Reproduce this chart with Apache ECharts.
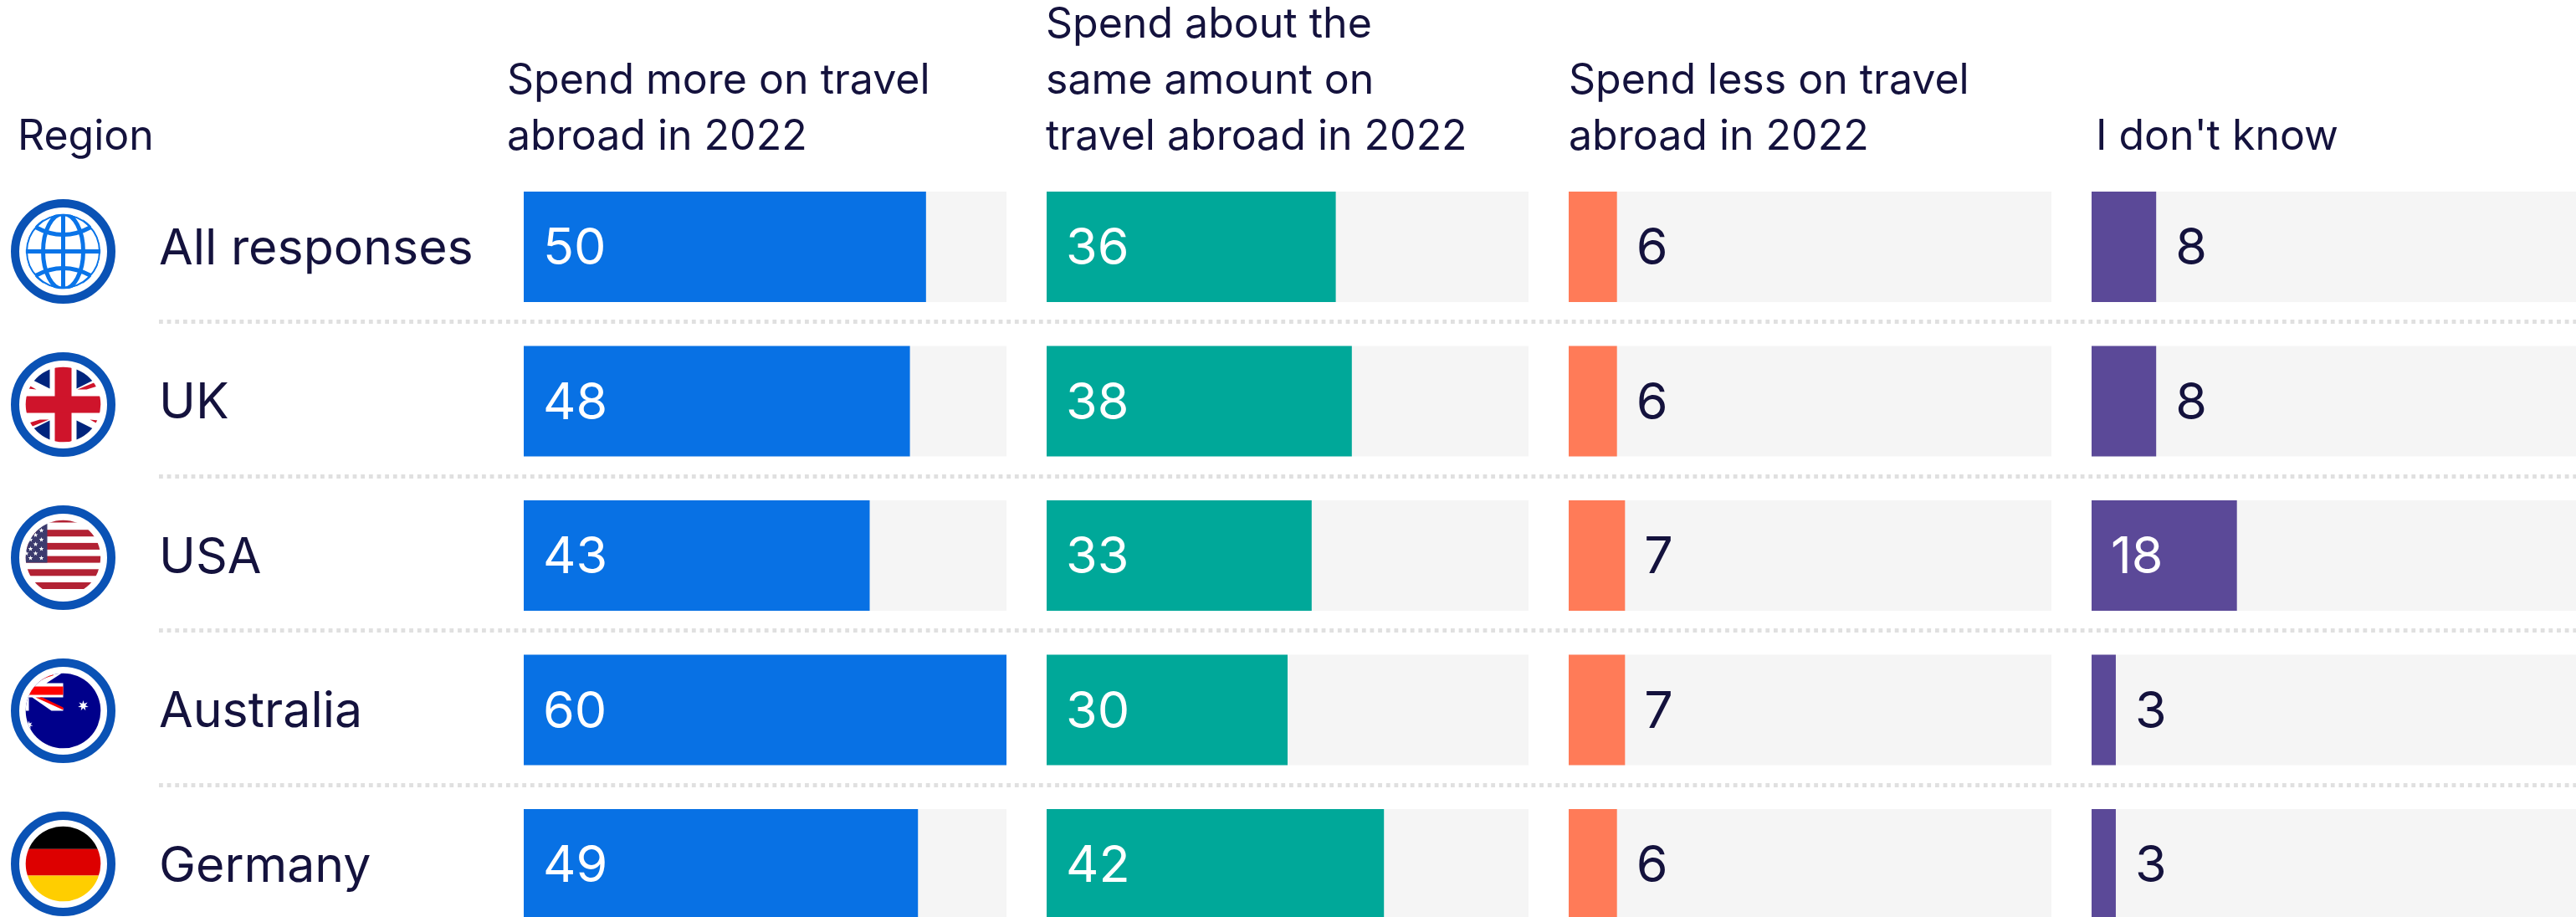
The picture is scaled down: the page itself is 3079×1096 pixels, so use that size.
<!DOCTYPE html>
<html><head><meta charset="utf-8">
<style>html,body{margin:0;padding:0;background:#fff;overflow:hidden}#c{width:3079px;height:1096px}</style>
<script src="https://cdn.jsdelivr.net/npm/echarts@6/dist/echarts.min.js"></script>
</head><body><div id="c"></div>
<script>
const regions = ['All responses','UK','USA','Australia','Germany'];
const spendMore = [50,48,43,60,49];
const spendSame = [36,38,33,30,42];
const spendLess = [6,6,7,7,6];
const dontKnow  = [8,8,18,3,3];
const headers = ['Region','Spend more on travel\nabroad in 2022','Spend about the\nsame amount on\ntravel abroad in 2022','Spend less on travel\nabroad in 2022',"I don't know"];
const barColors = ['#0871E4','#00A899','#FF7B58','#5B4998'];

const INK='#14123D', FONT='Inter';
const star=(cx,cy,r,n=5,inner=0.42)=>{let p=[];for(let i=0;i<n*2;i++){const a=-Math.PI/2+i*Math.PI/n,q=i%2?r*inner:r;p.push((cx+q*Math.cos(a)).toFixed(2)+','+(cy+q*Math.sin(a)).toFixed(2));}return `<polygon fill="#fff" points="${p.join(' ')}"/>`;};
const flagArt={
 'All responses':`<g fill="none" stroke="#0A74E8" stroke-width="5"><circle r="43.5" stroke-width="2"/><path d="M0-45V45M-45 0H45" stroke-width="5"/><ellipse rx="24" ry="45"/><path d="M-33-29Q0-11 33-29M-33 29Q0 11 33 29"/><path d="M-24-40L-33-29M24-40L33-29M-24 40L-33 29M24 40L33 29" stroke-width="3"/></g>`,
 'UK':`<polygon fill="#00247D" points="-16,-19 -16,-50 -50,-50 -50,-36"/><polygon fill="#00247D" points="16,-19 16,-50 50,-50 50,-36"/><polygon fill="#00247D" points="-16,19 -16,50 -50,50 -50,36"/><polygon fill="#00247D" points="16,19 16,50 50,50 50,36"/><g fill="#CF142B"><rect x="-10" y="-46" width="20" height="92"/><rect x="-46" y="-10" width="92" height="20"/><polygon points="17,-18 39,-27 41,-22 28,-18"/><polygon points="-17,18 -39,27 -41,22 -28,18"/><polygon points="-42,-19 -32,-18 -41,-23"/><polygon points="42,19 32,18 41,23"/></g>`,
 'USA':`<g fill="#B22234"><rect x="-45" y="-46" width="90" height="4"/><rect x="-45" y="-33.3" width="90" height="8"/><rect x="-45" y="-17.6" width="90" height="8"/><rect x="-45" y="-1.9" width="90" height="8"/><rect x="-45" y="13.8" width="90" height="8"/><rect x="-45" y="29.5" width="90" height="8"/></g><rect x="-46" y="-41" width="27" height="47" fill="#3C3B6E"/>`+[[-26,-32.5],[-33,-27],[-26,-21.5],[-39,-21.5],[-33,-16],[-26,-10.5],[-39,-10.5],[-33,-5],[-26,0.5],[-39,0.5],[-44,-5]].map(s=>star(s[0],s[1],3)).join(''),
 'Australia':`<circle r="46" fill="#00008B"/><polygon fill="#fff" points="-46,-46 0,-46 -20,-33 0,-33 0,-16 -28,-16 0,-3 0,0 -14,0 -37,-16 -41,-16 -41,0 -46,0"/><rect x="-41" y="-29" width="41" height="10" fill="#f00"/><polygon points="-33,-16 -25,-16 0,-4 0,-1" fill="#f00"/><path d="M-31-34Q-24-40-12-43" stroke="#f00" stroke-width="1.5" fill="none"/>`+star(24,-6,6.5,7)+star(-41,17,5,7),
 'Germany':`<rect x="-46" y="-46" width="92" height="28.3" fill="#000"/><rect x="-46" y="-17.7" width="92" height="31.7" fill="#DD0000"/><rect x="-46" y="14" width="92" height="32" fill="#FFCE00"/>`
};
const flagImage=name=>'image://data:image/svg+xml;charset=utf-8,'+encodeURIComponent(
 `<svg xmlns="http://www.w3.org/2000/svg" width="250" height="250" viewBox="-62.5 -62.5 125 125"><defs><clipPath id="f"><circle r="44.8"/></clipPath></defs><circle r="57.5" fill="#fff" stroke="#0A52B5" stroke-width="10"/><g clip-path="url(#f)">${flagArt[name]}</g></svg>`);

const columns=[
 {left:626,width:577,data:spendMore},
 {left:1251,width:576,data:spendSame},
 {left:1875,width:577,data:spendLess},
 {left:2500,width:579,data:dontKnow}
];
const BAND=184.5, GRID_TOP=202.75, H=BAND*regions.length;
const grid=columns.map(c=>({left:c.left,width:c.width,top:GRID_TOP,height:H,outerBoundsMode:'none'}));
grid.push({left:190,width:2889,top:199.8,height:H,outerBoundsMode:'none'});
grid.push({left:0,width:151,top:209,height:183*regions.length,outerBoundsMode:'none'});
grid.push({left:626,width:577,top:GRID_TOP+3,height:H,outerBoundsMode:'none'});
const hiddenX=(i,max)=>({type:'value',gridIndex:i,min:0,max,show:false});
const xAxis=[0,1,2,3].map(i=>hiddenX(i,60));
xAxis.push(hiddenX(4,1));
xAxis.push({type:'value',gridIndex:5,min:-1,max:1,show:false});
xAxis.push(hiddenX(6,1));
const yAxis=grid.map((g,i)=>({type:'category',gridIndex:i,inverse:true,data:regions,
 axisLine:{show:false},axisTick:{show:false},
 axisLabel:i===6?{show:true,align:'left',margin:436,fontFamily:FONT,fontSize:59,color:INK}:{show:false},
 splitLine:i===4?{show:true,showMinLine:false,showMaxLine:false,lineStyle:{color:'#E0E0E0',width:5,type:[4.8,4.85]}}:{show:false}
}));
const series=columns.map((c,i)=>({type:'bar',xAxisIndex:i,yAxisIndex:i,barWidth:132,z:3,animation:false,
 showBackground:true,backgroundStyle:{color:'#F5F5F5'},itemStyle:{color:barColors[i]},
 label:{show:true,fontFamily:FONT,fontSize:61,distance:23,offset:[0,3]},
 data:c.data.map(v=>({value:v,label:v>=10?{position:'insideLeft',color:'#fff'}:{position:'right',color:INK}}))
}));
series.push({type:'scatter',xAxisIndex:5,yAxisIndex:5,symbolSize:125,silent:true,animation:false,itemStyle:{opacity:1},
 data:regions.map(r=>({value:[0,r],symbol:flagImage(r)}))});
const headerLeft=[21,606,1250,1875,2505];
const title=headers.map((h,i)=>({text:h,left:headerLeft[i],bottom:899,padding:0,
 textStyle:{fontFamily:FONT,fontSize:50,fontWeight:400,color:INK,lineHeight:67}}));
const chart=echarts.init(document.getElementById('c'),null,{renderer:'canvas',width:3079,height:1096});
chart.setOption({animation:false,backgroundColor:'#fff',title,grid,xAxis,yAxis,series});
</script></body></html>
